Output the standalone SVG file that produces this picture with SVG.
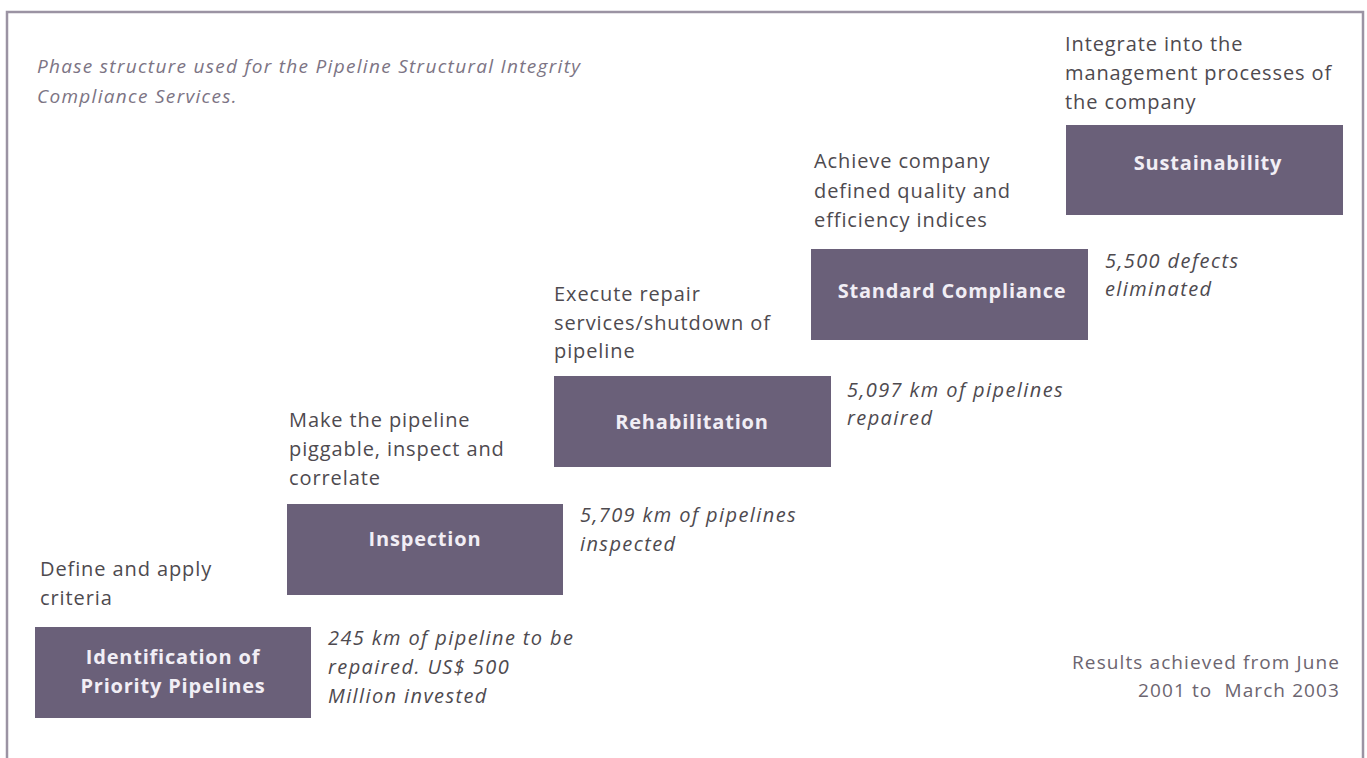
<svg xmlns="http://www.w3.org/2000/svg" width="1367" height="758" viewBox="0 0 1367 758">
<style>
.box{fill:#6a6079;}
.lbl{font-family:"Open Sans","Liberation Sans",sans-serif;font-weight:bold;font-size:20px;letter-spacing:0.8px;fill:#f1eef5;text-anchor:middle;}
.txt{font-family:"Open Sans","Liberation Sans",sans-serif;font-size:20px;letter-spacing:0.9px;fill:#4e4a4f;}
.note{font-family:"Open Sans","Liberation Sans",sans-serif;font-style:italic;font-size:20px;letter-spacing:1.4px;fill:#4e4a4f;}
.title{font-family:"Open Sans","Liberation Sans",sans-serif;font-style:italic;font-size:19px;letter-spacing:1.3px;fill:#7c7484;}
.res{font-family:"Open Sans","Liberation Sans",sans-serif;font-size:19px;letter-spacing:1.1px;fill:#6c6570;text-anchor:end;white-space:pre;}
</style>
<rect width="1367" height="758" fill="#ffffff"/>
<g id="frame" fill="none" stroke="#9b93a3" stroke-width="2.5">
<path d="M7,758 V12 H1363 V758"/>
</g>
<g id="title">
<text class="title" x="37" y="73">Phase structure used for the Pipeline Structural Integrity</text>
<text class="title" x="37" y="103">Compliance Services.</text>
</g>
<g id="node-identification">
<text class="txt" x="40" y="576">Define and apply</text>
<text class="txt" x="40" y="605">criteria</text>
<rect class="box" x="35" y="627" width="276" height="91"/>
<text class="lbl" x="173" y="664">Identification of</text>
<text class="lbl" x="173" y="693">Priority Pipelines</text>
<text class="note" x="328" y="645">245 km of pipeline to be</text>
<text class="note" x="328" y="674">repaired. US$ 500</text>
<text class="note" x="328" y="703">Million invested</text>
</g>
<g id="node-inspection">
<text class="txt" x="289" y="427">Make the pipeline</text>
<text class="txt" x="289" y="456">piggable, inspect and</text>
<text class="txt" x="289" y="485">correlate</text>
<rect class="box" x="287" y="504" width="276" height="91"/>
<text class="lbl" x="425" y="546">Inspection</text>
<text class="note" x="580" y="522">5,709 km of pipelines</text>
<text class="note" x="580" y="551">inspected</text>
</g>
<g id="node-rehabilitation">
<text class="txt" x="554" y="301">Execute repair</text>
<text class="txt" x="554" y="330">services/shutdown of</text>
<text class="txt" x="554" y="358">pipeline</text>
<rect class="box" x="554" y="376" width="277" height="91"/>
<text class="lbl" x="692" y="429">Rehabilitation</text>
<text class="note" x="847" y="397">5,097 km of pipelines</text>
<text class="note" x="847" y="425">repaired</text>
</g>
<g id="node-standard-compliance">
<text class="txt" x="814" y="168">Achieve company</text>
<text class="txt" x="814" y="198">defined quality and</text>
<text class="txt" x="814" y="227">efficiency indices</text>
<rect class="box" x="811" y="249" width="277" height="91"/>
<text class="lbl" x="952" y="298">Standard Compliance</text>
<text class="note" x="1105" y="268">5,500 defects</text>
<text class="note" x="1105" y="296">eliminated</text>
</g>
<g id="node-sustainability">
<text class="txt" x="1065" y="51">Integrate into the</text>
<text class="txt" x="1065" y="80">management processes of</text>
<text class="txt" x="1065" y="109">the company</text>
<rect class="box" x="1066" y="125" width="277" height="90"/>
<text class="lbl" x="1208" y="170">Sustainability</text>
</g>
<g id="results">
<text class="res" x="1340" y="669">Results achieved from June</text>
<text class="res" x="1340" y="697" xml:space="preserve">2001 to  March 2003</text>
</g>
</svg>
